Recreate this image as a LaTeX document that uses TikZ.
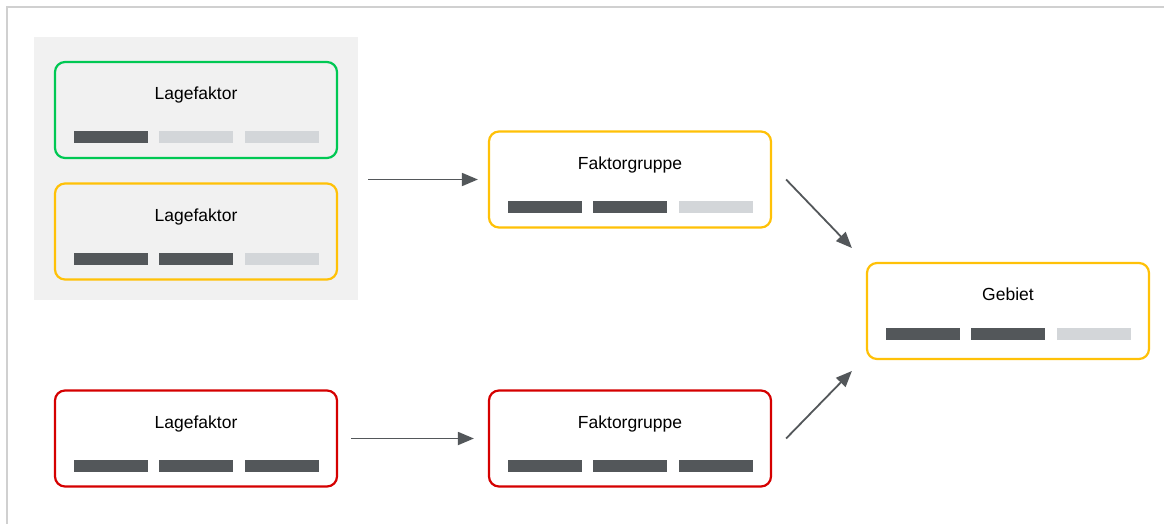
\documentclass[tikz,border=0pt]{standalone}
\usepackage{fontspec}
\setmainfont{Liberation Sans}
\usetikzlibrary{arrows.meta,calc}
\definecolor{cgreen}{RGB}{0,200,83}
\definecolor{cyellow}{RGB}{255,193,7}
\definecolor{cred}{RGB}{213,0,0}
\definecolor{cdark}{RGB}{83,87,90}
\definecolor{clight}{RGB}{211,214,217}
\definecolor{cpanel}{RGB}{241,241,241}
\definecolor{cborder}{RGB}{208,208,208}
\tikzset{
  card/.style={draw, rounded corners=10pt, line width=2.2pt, minimum width=282pt, minimum height=96pt, inner sep=0pt},
  lbl/.style={anchor=base, inner sep=0pt, font=\fontsize{17.5}{20}\selectfont, text=black},
  bar/.style={inner sep=0pt, minimum width=74pt, minimum height=12pt},
  conn/.style={draw=cdark, line width=1.8pt, -{Triangle[length=16pt,width=13pt]}},
}
\def\myoff{76.5}
% #1 name, #2 center x, #3 center y, #4 colour, #5 fill, #6 text, #7 #8 #9 bar colours
\newcommand\mycard[9]{%
  \node[card, draw=#4, fill=#5] (#1) at (#2,#3) {};
  \node[lbl] (#1-t) at ($(#1.north)+(0,39)$) {#6};
  \node[bar, fill=#7] (#1-b1) at ($(#1.north)+(-85,\myoff)$) {};
  \node[bar, fill=#8] (#1-b2) at ($(#1.north)+(0,\myoff)$) {};
  \node[bar, fill=#9] (#1-b3) at ($(#1.north)+(85.5,\myoff)$) {};
}
\begin{document}
\begin{tikzpicture}[x=1pt,y=-1pt]
\useasboundingbox (0,0) rectangle (1164,524);
\fill[white] (0,0) rectangle (1164,524);
\draw[cborder, line width=1.2pt] (1164,7) -- (7,7) -- (7,524);
\node[fill=cpanel, inner sep=0pt, minimum width=324pt, minimum height=263pt] (panel) at (196,168.5) {};
\mycard{l1}{196}{110}{cgreen}{cpanel}{Lagefaktor}{cdark}{clight}{clight}
\mycard{l2}{196}{231.5}{cyellow}{cpanel}{Lagefaktor}{cdark}{cdark}{clight}
\mycard{l3}{196}{438.5}{cred}{white}{Lagefaktor}{cdark}{cdark}{cdark}
\mycard{f1}{630}{179.5}{cyellow}{white}{Faktorgruppe}{cdark}{cdark}{clight}
\mycard{f2}{630}{438.5}{cred}{white}{Faktorgruppe}{cdark}{cdark}{cdark}
\def\myoff{72.5}
\mycard{g}{1008}{311}{cyellow}{white}{Gebiet}{cdark}{cdark}{clight}
\coordinate (a1s) at (panel.east |- f1.west);
\coordinate (d1s) at ($(f1.east)+(14,0)$);
\coordinate (d1e) at ($(g.west)+(-14,-63)$);
\coordinate (d2s) at ($(f2.east)+(14,0)$);
\coordinate (d2e) at ($(g.west)+(-14,60)$);
\draw[conn, shorten <=10pt, shorten >=10pt] (a1s) -- (f1.west);
\draw[conn, shorten <=13pt, shorten >=14pt] (l3.east) -- (f2.west);
\draw[conn] (d1s) -- (d1e);
\draw[conn] (d2s) -- (d2e);
\end{tikzpicture}
\end{document}
